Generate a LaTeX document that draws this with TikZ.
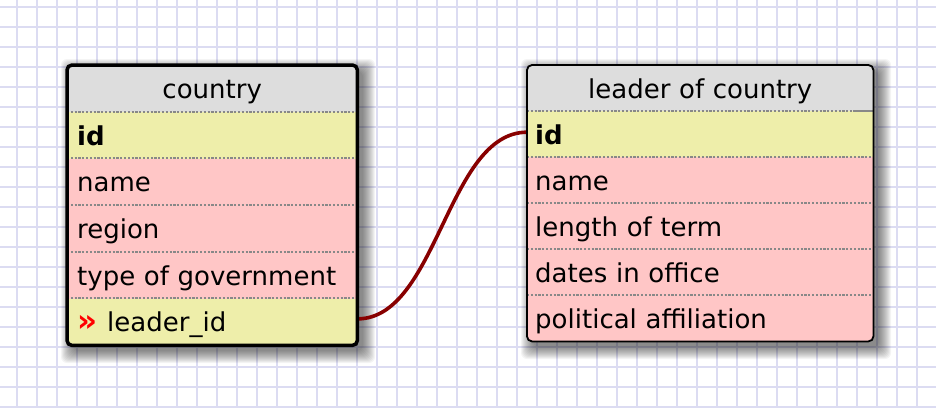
\documentclass[tikz,border=0pt]{standalone}
\usepackage{fontspec}
\setmainfont{DejaVu Sans}
\definecolor{gridc}{HTML}{DCDCF2}
\definecolor{hdrc}{HTML}{DDDDDD}
\definecolor{keyc}{HTML}{EEEEAA}
\definecolor{rowc}{HTML}{FFC6C6}
\definecolor{sepc}{HTML}{888888}
\definecolor{connc}{HTML}{880000}
\begin{document}
\begin{tikzpicture}[x=1pt,y=-1pt,
  cell/.style={rectangle, inner xsep=10pt, inner ysep=0pt, anchor=north west,
    text height=20pt, text depth=0pt, align=left,
    font=\fontsize{26}{30}\selectfont},
  lcell/.style={cell, minimum width=290pt, text width=270pt, minimum height=46.67pt},
  rcell/.style={cell, inner xsep=8pt, minimum width=346pt, text width=330pt, minimum height=46pt},
  hdr/.style={fill=hdrc, align=center},
  keyrow/.style={fill=keyc},
  plainrow/.style={fill=rowc},
  sep/.style={draw=sepc, line width=1.8pt, dash pattern=on 2.2pt off 1.6pt},
  gridline/.style={draw=gridc, line width=2pt},
  shadowlayer/.style={fill=black, opacity=0.045, rounded corners=6pt},
  conn/.style={draw=connc, line width=3.6pt},
]
\useasboundingbox (0,0) rectangle (936,408);
\fill[white] (0,0) rectangle (936,408);
% grid
\foreach \x in {17,37,...,937} \draw[gridline] (\x,0) -- (\x,408);
\foreach \y in {7,27,...,407} \draw[gridline] (0,\y) -- (936,\y);
% shadows
\foreach \k in {0,...,12} {
  \fill[shadowlayer] ({73-\k},{71-\k}) rectangle ({363+\k},{351+\k});
  \fill[shadowlayer] ({533-\k},{71-\k}) rectangle ({879+\k},{347+\k});
}
% left table
\begin{scope}
\clip[rounded corners=5pt] (67,65) rectangle (357,345);
\node[lcell, hdr] (lhead) at (67,65) {country};
\node[lcell, keyrow] (lid) at (67,111.67) {\textbf{id}};
\node[lcell, plainrow] (lname) at (67,158.33) {name};
\node[lcell, plainrow] (lregion) at (67,205) {region};
\node[lcell, plainrow] (ltype) at (67,251.67) {type of government};
\node[lcell, keyrow] (lleader) at (67,298.33) {\textcolor{red}{\fontsize{31}{30}\selectfont\textbf{»}}\hspace{10pt}leader\_id};
\end{scope}
\foreach \n in {lid,lname,lregion,ltype,lleader}
  \draw[sep] (\n.north west) -- (\n.north east);
% right table
\begin{scope}
\clip[rounded corners=5pt] (527,65) rectangle (873,341);
\node[rcell, hdr] (rhead) at (527,65) {leader of country};
\node[rcell, keyrow] (rid) at (527,111) {\textbf{id}};
\node[rcell, plainrow] (rname) at (527,157) {name};
\node[rcell, plainrow] (rlength) at (527,203) {length of term};
\node[rcell, plainrow] (rdates) at (527,249) {dates in office};
\node[rcell, plainrow] (rpol) at (527,295) {political affiliation};
\end{scope}
\foreach \n in {rid,rname,rlength,rdates,rpol}
  \draw[sep] (\n.north west) -- (\n.north east);
\draw[draw=sepc, line width=1.8pt] ([xshift=-20pt]rid.north east) -- (rid.north east);
% connector
\draw[conn] ([yshift=3pt]lleader.east) .. controls +(80,0) and +(-80,0) .. ([yshift=2pt]rid.west);
% borders
\draw[line width=3.5pt, rounded corners=5pt] (lhead.north west) rectangle (lleader.south east);
\draw[line width=1.8pt, rounded corners=5pt] (rhead.north west) rectangle (rpol.south east);
\end{tikzpicture}
\end{document}
